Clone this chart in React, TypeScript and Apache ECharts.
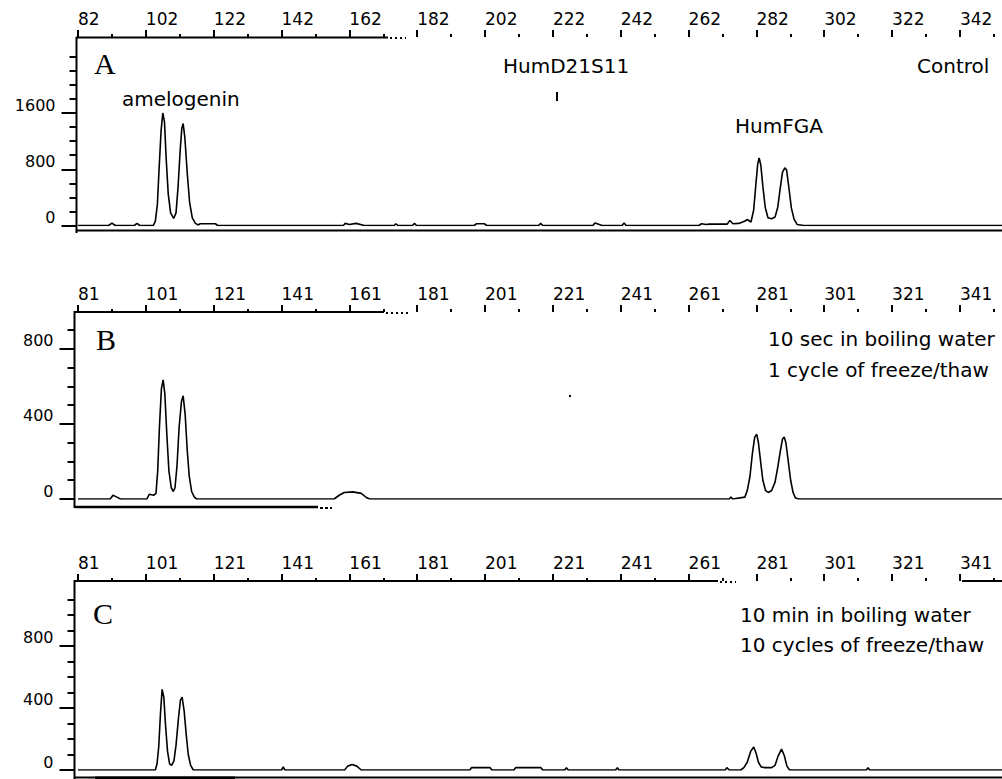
import React, { useEffect, useRef } from "react";
import * as echarts from "echarts";

// ---- data ----
// first labelled size (bp) on the top axis of each panel
const axisStartBp = [82, 81, 81];
const tickStepBp = 20;
const xSpanBp = 280;
const lastLabelOffsetBp = 260;

// y extents (RFU) and tick values
const yMaxRfu = [2681, 997, 1219];
const yLabelValues = [
  [0, 800, 1600],
  [0, 400, 800],
  [0, 400, 800],
];
const yMinorValues = [
  [200, 400, 600, 1000, 1200, 1400, 1800, 2000, 2200, 2400],
  [100, 200, 300, 500, 600, 700, 900],
  [100, 200, 300, 500, 600, 700, 900, 1000, 1100],
];

const panelLetters = ["A", "B", "C"];
const locusLabels = ["amelogenin", "HumD21S11", "HumFGA"];
const conditionA = ["Control"];
const conditionB = ["10 sec in boiling water", "1 cycle of freeze/thaw"];
const conditionC = ["10 min in boiling water", "10 cycles of freeze/thaw"];

// traces: [size bp, RFU]
const traceA: [number, number][] = [
  [82, 0], [91, 0], [92, 35], [93, 0], [98.6, 0], [99.4, 30], [100.2, 0],
  [104.2, 0], [104.8, 60], [105.4, 300], [105.9, 800], [106.5, 1350], [107.0, 1600],
  [107.5, 1470], [108.0, 950], [108.6, 450], [109.3, 180], [110.2, 100], [110.9, 180],
  [111.5, 550], [112.1, 1050], [112.6, 1380], [113.0, 1450], [113.5, 1250], [114.2, 750],
  [114.9, 330], [115.7, 110], [116.6, 30], [117.5, 8], [118, 25], [122.5, 25], [123.2, 0],
  [160.2, 0], [160.8, 30], [162, 15], [164, 30], [166.4, 0], [175.2, 0], [175.7, 25],
  [176.3, 0], [180.6, 0], [181.2, 30], [181.8, 0], [198.8, 0], [199.5, 25], [201.8, 25],
  [202.5, 0], [217.8, 0], [218.4, 30], [219, 0], [233.8, 0], [234.4, 35], [235.9, 10],
  [236.5, 0], [242.4, 0], [243, 35], [243.6, 0], [265, 0], [265.8, 25], [267.3, 15],
  [268, 20], [273.4, 20], [274.2, 70], [275.1, 25], [276.8, 30], [278.5, 60], [279.4, 85],
  [280.4, 50], [281.2, 220], [281.8, 560], [282.4, 880], [282.8, 960], [283.3, 860],
  [283.9, 560], [284.6, 260], [285.4, 110], [286.5, 95], [287.5, 120], [288.3, 260],
  [289.0, 520], [289.7, 760], [290.4, 820], [290.9, 790], [291.6, 530], [292.3, 250],
  [293.1, 90], [294, 15], [296, 0], [362, 0],
];

const traceB: [number, number][] = [
  [81, 0], [90.5, 0], [91.3, 20], [92.5, 10], [93.5, 0], [101.3, 0], [102, 25], [103.3, 20],
  [104, 30], [104.5, 150], [105.0, 380], [105.6, 590], [106.1, 635], [106.6, 560],
  [107.2, 340], [107.8, 150], [108.5, 60], [109.1, 40], [109.6, 60], [110.2, 180],
  [110.8, 380], [111.5, 520], [112.0, 550], [112.6, 450], [113.2, 260], [113.8, 120],
  [114.5, 40], [115.3, 10], [116, 0], [156.5, 0], [158, 20], [159.5, 35], [162, 38],
  [164.5, 30], [166, 8], [167, 0], [273, 0], [273.5, 10], [274, 0], [277.6, 10],
  [278.3, 45], [279.1, 120], [279.8, 240], [280.5, 330], [281.1, 345], [281.6, 300],
  [282.3, 190], [282.9, 100], [283.7, 45], [284.5, 35], [285.5, 45], [286.5, 90],
  [287.3, 170], [288.1, 260], [288.7, 320], [289.2, 330], [289.7, 300], [290.4, 200],
  [291.1, 100], [291.8, 35], [292.5, 5], [293.5, 0], [361, 0],
];

const traceC: [number, number][] = [
  [81, 0], [103.8, 0], [104.3, 40], [104.8, 150], [105.3, 360], [105.8, 520], [106.3, 470],
  [106.8, 290], [107.4, 120], [108.0, 40], [108.6, 30], [109.3, 60], [109.9, 160],
  [110.6, 330], [111.2, 450], [111.7, 470], [112.3, 380], [112.9, 230], [113.5, 100],
  [114.2, 30], [115, 0], [141, 0], [141.5, 20], [142, 0], [159.6, 0], [160.5, 25],
  [161.8, 35], [163.2, 25], [164.5, 0], [196.5, 0], [197, 15], [202.5, 15], [203, 0],
  [209.5, 0], [210, 15], [217.5, 15], [218, 0], [224.5, 0], [225, 15], [225.5, 0],
  [239.5, 0], [240, 15], [240.5, 0], [271.8, 0], [272.3, 15], [273, 0], [276.4, 0],
  [277.3, 15], [278.3, 50], [279.3, 120], [280.2, 148], [280.9, 110], [281.6, 50],
  [282.4, 20], [283.5, 15], [285.5, 15], [286.5, 30], [287.4, 90], [288.4, 135],
  [289.2, 95], [290, 25], [290.8, 0], [313.4, 0], [313.9, 15], [314.4, 0], [361, 0],
];

const traces = [traceA, traceB, traceC];

// ---- layout (pixels) ----
const W = 1002;
const H = 779;
const gridLeft = 78;
const gridTop = [37, 312, 581];
const gridHeight = [188.5, 187, 189];
const yAxisOffset = [1.5, 3.5, 3.5];
const pxPerBp = 3.392;

const AXIS_FONT = "DejaVu Sans";
const TEXT_FONT = '20px "DejaVu Sans"';
const LETTER_FONT = '30px "Liberation Serif"';

function buildOption(): any {
  const gridWidth = xSpanBp * pxPerBp;
  const grid = gridTop.map((t, i) => ({
    left: gridLeft,
    width: gridWidth,
    top: t,
    height: gridHeight[i],
    containLabel: false,
    outerBoundsMode: "none",
  }));

  const xAxis = axisStartBp.map((start, i) => ({
    type: "value",
    gridIndex: i,
    position: "top",
    min: 0,
    max: xSpanBp,
    interval: tickStepBp,
    axisLine: { show: false, onZero: false },
    axisTick: { show: true, inside: false, length: 7, lineStyle: { color: "#000", width: 2 } },
    minorTick: { show: true, splitNumber: 2, length: 3, lineStyle: { color: "#000", width: 2 } },
    splitLine: { show: false },
    axisLabel: {
      show: true,
      align: "left",
      margin: 10,
      color: "#000",
      fontFamily: AXIS_FONT,
      fontSize: 17,
      formatter: (v: number) =>
        v % tickStepBp === 0 && v <= lastLabelOffsetBp ? String(v + start) : "",
    },
  }));

  const yAxis: any[] = [];
  for (let i = 0; i < 3; i++) {
    yAxis.push({
      type: "value",
      gridIndex: i,
      position: "left",
      offset: yAxisOffset[i],
      min: 0,
      max: yMaxRfu[i],
      axisLine: { show: false, onZero: false },
      axisTick: {
        show: true,
        length: 15,
        customValues: yLabelValues[i],
        lineStyle: { color: "#000", width: 2 },
      },
      axisLabel: {
        show: true,
        customValues: yLabelValues[i],
        margin: 21,
        color: "#000",
        fontFamily: AXIS_FONT,
        fontSize: 16,
        verticalAlign: "bottom",
        formatter: (v: number) => String(v),
      },
      splitLine: { show: false },
    });
    yAxis.push({
      type: "value",
      gridIndex: i,
      position: "left",
      offset: yAxisOffset[i],
      min: 0,
      max: yMaxRfu[i],
      axisLine: { show: false, onZero: false },
      axisTick: {
        show: true,
        length: 7,
        customValues: yMinorValues[i],
        lineStyle: { color: "#000", width: 2 },
      },
      axisLabel: { show: false },
      splitLine: { show: false },
    });
  }

  const series = traces.map((tr, i) => ({
    type: "line",
    xAxisIndex: i,
    yAxisIndex: i * 2,
    data: tr.map(([bp, rfu]) => [bp - axisStartBp[i], rfu]),
    showSymbol: false,
    symbol: "none",
    silent: true,
    lineStyle: { color: "#000", width: 1.6 },
  }));

  const ln = (x1: number, y1: number, x2: number, y2: number, w = 2, dash?: number[]) => ({
    type: "line",
    silent: true,
    shape: { x1, y1, x2, y2 },
    style: { stroke: "#000", lineWidth: w, lineDash: dash },
  });
  const txt = (text: string, x: number, y: number, font: string, align = "left") => ({
    type: "text",
    silent: true,
    x,
    y,
    style: { text, font, fill: "#000", textAlign: align, textVerticalAlign: "middle" },
  });

  const graphic = [
    // panel A frame
    ln(76, 37.5, 388, 37.5),
    ln(390, 38, 406, 38, 2, [2, 3]),
    ln(76.5, 37, 76.5, 233),
    ln(76, 230.5, W, 230.5),
    ln(557, 92, 557, 101),
    // panel B frame
    ln(74, 312, 384, 312),
    ln(386, 313, 410, 313, 2, [2, 3]),
    ln(74.5, 311, 74.5, 508),
    ln(75, 507, 318, 507, 2.5),
    ln(320, 508, 332, 508, 2, [3, 2]),
    { type: "circle", silent: true, shape: { cx: 570, cy: 396, r: 1.2 }, style: { fill: "#000" } },
    // panel C frame
    ln(74, 581, 718, 581),
    ln(720, 582, 736, 582, 2, [2, 3]),
    ln(962, 581, W, 581),
    ln(74.5, 580, 74.5, H),
    ln(75, 777.5, W, 777.5),
    ln(95, 778, 235, 778, 3),
    // texts
    txt(panelLetters[0], 94, 63, LETTER_FONT),
    txt(panelLetters[1], 96, 339, LETTER_FONT),
    txt(panelLetters[2], 93, 613, LETTER_FONT),
    txt(locusLabels[0], 122, 99, TEXT_FONT),
    txt(locusLabels[1], 503, 66, TEXT_FONT),
    txt(locusLabels[2], 735, 126, TEXT_FONT),
    txt(conditionA[0], 917, 66, TEXT_FONT),
    txt(conditionB[0], 768, 339, TEXT_FONT),
    txt(conditionB[1], 768, 370, TEXT_FONT),
    txt(conditionC[0], 740, 615, TEXT_FONT),
    txt(conditionC[1], 740, 645, TEXT_FONT),
  ];

  return {
    animation: false,
    backgroundColor: "#fff",
    grid,
    xAxis,
    yAxis,
    series,
    graphic,
  };
}

export default function App() {
  const ref = useRef<HTMLDivElement>(null);
  useEffect(() => {
    if (!ref.current) return;
    const chart = echarts.init(ref.current, undefined, { renderer: "svg" });
    chart.setOption(buildOption());
    return () => chart.dispose();
  }, []);
  return (
    <div
      ref={ref}
      style={{ position: "fixed", left: 0, top: 0, width: W, height: H, background: "#fff" }}
    />
  );
}
